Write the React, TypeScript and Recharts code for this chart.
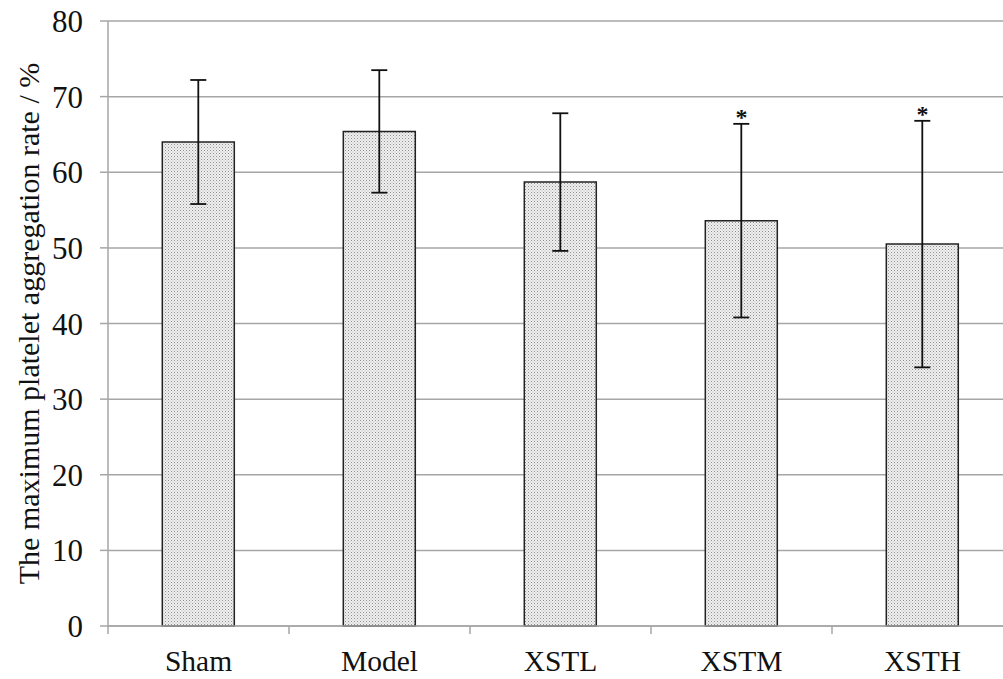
import React from 'react';
import {
    ComposedChart,
    Bar,
    ErrorBar,
    Scatter,
    XAxis,
    YAxis,
    CartesianGrid
} from 'recharts';

const categories = ['Sham', 'Model', 'XSTL', 'XSTM', 'XSTH'];
const means = [64.0, 65.4, 58.7, 53.6, 50.5];
const sds = [8.2, 8.1, 9.1, 12.8, 16.3];
const marks = ['', '', '', '*', '*'];
const yTicks = [0, 10, 20, 30, 40, 50, 60, 70, 80];

const data = categories.map((name, i) => ({
    name,
    mean: means[i],
    sd: sds[i],
    top: means[i] + sds[i],
    mark: marks[i]
}));

const FONT = '"Liberation Serif", "Times New Roman", serif';
const AXIS_GRAY = '#a6a6a6';

const CategoryTick = (props: any) => {
    const { x, y, payload, index, visibleTicksCount } = props;
    const half = payload.offset || 0;
    const isLast = index === visibleTicksCount - 1;
    return (
        <g>
            <line x1={x - half} y1={y} x2={x - half} y2={y + 8} stroke={AXIS_GRAY} strokeWidth={1.5} />
            {isLast && (
                <line x1={x + half} y1={y} x2={x + half} y2={y + 8} stroke={AXIS_GRAY} strokeWidth={1.5} />
            )}
            <text x={x} y={y + 45} textAnchor="middle" fill="#111" fontSize={29.5} fontFamily={FONT}>
                {payload.value}
            </text>
        </g>
    );
};

const StarShape = (props: any) => {
    const { cx, cy, payload } = props;
    if (!payload || !payload.mark) return null;
    return (
        <text x={cx} y={cy + 1} textAnchor="middle" fill="#111" fontSize={24} fontWeight="bold" fontFamily={FONT}>
            {payload.mark}
        </text>
    );
};

const YLabel = (props: any) => {
    const { viewBox } = props;
    const cy = viewBox.y + viewBox.height / 2;
    const cx = 28;
    return (
        <text
            x={cx}
            y={cy}
            transform={`rotate(-90, ${cx}, ${cy})`}
            textAnchor="middle"
            dy="0.35em"
            fill="#111"
            fontSize={30}
            fontFamily={FONT}
        >
            The maximum platelet aggregation rate / %
        </text>
    );
};

const App: React.FC = () => {
    return (
        <div style={{ position: 'fixed', left: 0, top: 0, width: 1003, height: 679, overflow: 'hidden', background: '#fff' }}>
            <ComposedChart
                width={1020}
                height={679}
                data={data}
                margin={{ top: 21, right: 7, left: 0, bottom: 0 }}
                barCategoryGap="30%"
            >
                <defs>
                    <pattern id="dots" width="3" height="3" patternUnits="userSpaceOnUse">
                        <rect width="3" height="3" fill="#efefef" />
                        <rect x="0" y="0" width="1" height="1" fill="#909090" />
                        <rect x="1.5" y="1.5" width="1" height="1" fill="#b4b4b4" />
                    </pattern>
                </defs>
                <CartesianGrid vertical={false} stroke={AXIS_GRAY} strokeWidth={1.5} />
                <XAxis
                    dataKey="name"
                    height={53}
                    axisLine={{ stroke: AXIS_GRAY, strokeWidth: 1.5 }}
                    tickLine={false}
                    tickSize={0}
                    tickMargin={0}
                    interval={0}
                    tick={<CategoryTick />}
                />
                <YAxis
                    width={108}
                    domain={[0, 80]}
                    ticks={yTicks}
                    interval={0}
                    axisLine={{ stroke: AXIS_GRAY, strokeWidth: 1.5 }}
                    tickLine={{ stroke: AXIS_GRAY, strokeWidth: 1.5 }}
                    tickSize={8}
                    tickMargin={17}
                    tick={{ fill: '#111', fontSize: 31, fontFamily: FONT }}
                    label={<YLabel />}
                />
                <Bar dataKey="mean" fill="url(#dots)" stroke="#222" strokeWidth={1.5} isAnimationActive={false}>
                    <ErrorBar dataKey="sd" width={8} stroke="#111" strokeWidth={1.8} direction="y" />
                </Bar>
                <Scatter dataKey="top" shape={<StarShape />} isAnimationActive={false} />
            </ComposedChart>
        </div>
    );
};

export default App;
